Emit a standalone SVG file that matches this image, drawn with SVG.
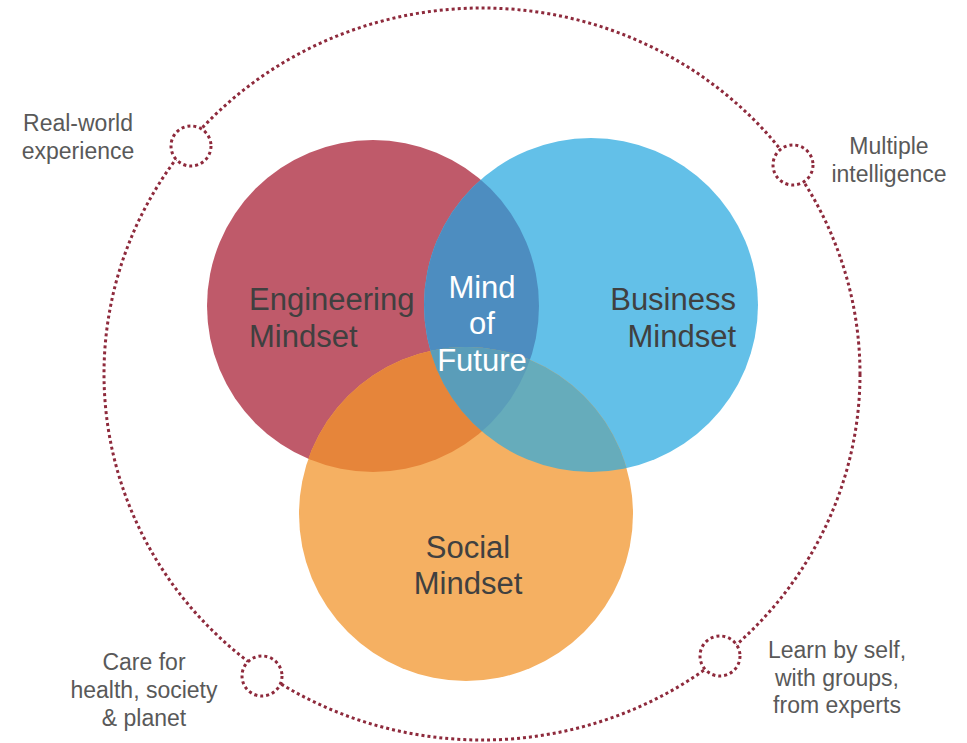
<svg xmlns="http://www.w3.org/2000/svg" width="967" height="743" viewBox="0 0 967 743">
<style>
.dot{fill:none;stroke:#8E2A3C;stroke-width:3;stroke-dasharray:3 3}
.node{fill:#fff;stroke:#8E2A3C;stroke-width:3;stroke-dasharray:3 3}
.lbl{font-family:"Liberation Sans",Arial,sans-serif;font-size:23px;fill:#595959;text-anchor:middle}
.big{font-family:"Liberation Sans",Arial,sans-serif;font-size:31px;fill:#404040}
.ctr{font-family:"Liberation Sans",Arial,sans-serif;font-size:31px;fill:#fff;text-anchor:middle}
</style>
<defs>
<clipPath id="cEng"><circle cx="373" cy="306" r="166"/></clipPath>
<clipPath id="cBus"><circle cx="591" cy="305" r="167"/></clipPath>
</defs>
<rect width="967" height="743" fill="#fff"/>
<g id="connectors">
<ellipse class="dot" cx="482" cy="374" rx="378" ry="366"/>
</g>
<g id="venn">
<g id="engineering"><circle cx="373" cy="306" r="166" fill="#BF5A6A"/></g>
<g id="business"><circle cx="591" cy="305" r="167" fill="#63C0E8"/></g>
<g id="social"><circle cx="466" cy="514" r="167" fill="#F5B062"/></g>
<circle cx="591" cy="305" r="167" fill="#4D8DC0" clip-path="url(#cEng)"/>
<circle cx="466" cy="514" r="167" fill="#E6853A" clip-path="url(#cEng)"/>
<circle cx="466" cy="514" r="167" fill="#66ACBB" clip-path="url(#cBus)"/>
<g clip-path="url(#cEng)"><circle cx="466" cy="514" r="167" fill="#5A9DB9" clip-path="url(#cBus)"/></g>
<text class="big" x="249" y="310">Engineering</text>
<text class="big" x="249" y="347">Mindset</text>
<text class="big" x="736" y="310" text-anchor="end">Business</text>
<text class="big" x="736" y="347" text-anchor="end">Mindset</text>
<text class="big" x="468" y="558" text-anchor="middle">Social</text>
<text class="big" x="468" y="594" text-anchor="middle">Mindset</text>
<g id="center">
<text class="ctr" x="482" y="298">Mind</text>
<text class="ctr" x="482" y="334">of</text>
<text class="ctr" x="482" y="371">Future</text>
</g>
</g>
<g id="n-realworld">
<circle class="node" cx="191" cy="146" r="20"/>
<text class="lbl" x="78" y="131">Real-world</text>
<text class="lbl" x="78" y="159">experience</text>
</g>
<g id="n-multiple">
<circle class="node" cx="793" cy="165" r="20"/>
<text class="lbl" x="889" y="154">Multiple</text>
<text class="lbl" x="889" y="182">intelligence</text>
</g>
<g id="n-care">
<circle class="node" cx="262" cy="676" r="20"/>
<text class="lbl" x="144" y="670">Care for</text>
<text class="lbl" x="144" y="698">health, society</text>
<text class="lbl" x="144" y="726">&amp; planet</text>
</g>
<g id="n-learn">
<circle class="node" cx="720" cy="656" r="20"/>
<text class="lbl" x="837" y="658">Learn by self,</text>
<text class="lbl" x="837" y="686">with groups,</text>
<text class="lbl" x="837" y="713">from experts</text>
</g>
</svg>
